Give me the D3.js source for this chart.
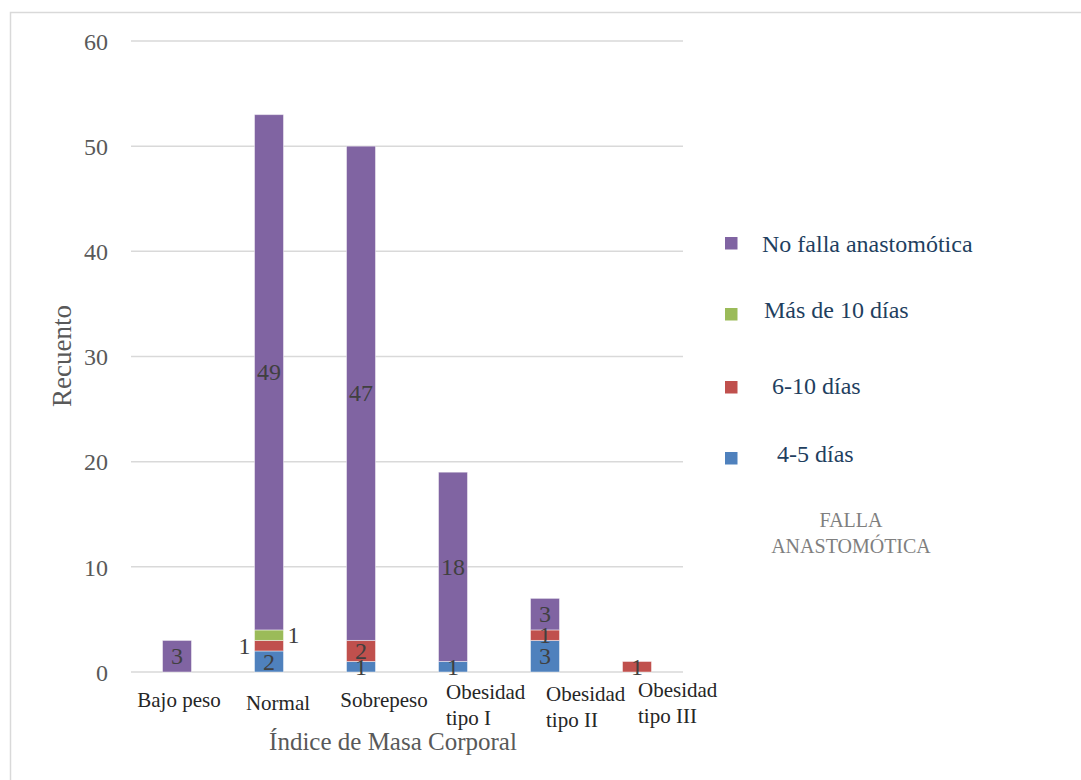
<!DOCTYPE html>
<html>
<head>
<meta charset="utf-8">
<script src="https://cdn.jsdelivr.net/npm/d3@7"></script>
<style>
  html, body { margin: 0; padding: 0; background: #fff; }
  svg { display: block; }
  text { font-family: "Liberation Serif", "Times New Roman", serif; }
</style>
</head>
<body>
<svg id="chart" width="1081" height="780"></svg>
<script>
// Recuento por Índice de Masa Corporal y días hasta la falla anastomótica
const categories = ["Bajo peso", "Normal", "Sobrepeso", "Obesidad tipo I", "Obesidad tipo II", "Obesidad tipo III"];
const categoryLines = [["Bajo peso"], ["Normal"], ["Sobrepeso"], ["Obesidad", "tipo I"], ["Obesidad", "tipo II"], ["Obesidad", "tipo III"]];

const seriesNames = ["4-5 días", "6-10 días", "Más de 10 días", "No falla anastomótica"];
const dias4a5     = [0, 2, 1, 1, 3, 0];
const dias6a10    = [0, 1, 2, 0, 1, 1];
const masDe10     = [0, 1, 0, 0, 0, 0];
const noFalla     = [3, 49, 47, 18, 3, 0];

const yTicks = [0, 10, 20, 30, 40, 50, 60];
const legendTitle = ["FALLA", "ANASTOMÓTICA"];

const colors = {
  "4-5 días": "#4F81BD",
  "6-10 días": "#C0504D",
  "Más de 10 días": "#9BBB59",
  "No falla anastomótica": "#8064A2"
};

// value labels drawn beside the bar instead of inside it
const outsideLabels = { "Normal|6-10 días": "left", "Normal|Más de 10 días": "right" };

// x-axis label placement per category
const catLabelLayout = [
  { anchor: "middle", dx: 2, dy: 0 },
  { anchor: "middle", dx: 9, dy: 3 },
  { anchor: "middle", dx: 23, dy: 0 },
  { anchor: "start", dx: -7, dy: -8 },
  { anchor: "start", dx: 1, dy: -6 },
  { anchor: "start", dx: 1, dy: -10 }
];

const rows = categories.map((c, i) => ({
  category: c,
  "4-5 días": dias4a5[i],
  "6-10 días": dias6a10[i],
  "Más de 10 días": masDe10[i],
  "No falla anastomótica": noFalla[i]
}));

const svg = d3.select("#chart");
const W = 1081, H = 780;

svg.append("rect").attr("width", W).attr("height", H).attr("fill", "#fff");
// outer chart frame
svg.append("rect")
  .attr("x", 10.5).attr("y", 12.5).attr("width", 1200).attr("height", 900)
  .attr("fill", "none").attr("stroke", "#D9D9D9").attr("stroke-width", 1.5);

const plot = { left: 131, right: 683, top: 41, bottom: 672 };

const x = d3.scaleBand().domain(categories).range([plot.left, plot.right]).padding(0);
const barW = x.bandwidth() * 0.315;
const y = d3.scaleLinear().domain([0, 60]).range([plot.bottom, plot.top]);

// gridlines
svg.append("g").selectAll("line").data(yTicks).join("line")
  .attr("x1", plot.left).attr("x2", plot.right)
  .attr("y1", d => y(d)).attr("y2", d => y(d))
  .attr("stroke", "#D9D9D9").attr("stroke-width", 1.5);

// y-axis tick labels
const yAxis = d3.axisLeft(y).tickValues(yTicks).tickSize(0).tickPadding(0);
const yg = svg.append("g").attr("transform", `translate(108,0)`).call(yAxis);
yg.select(".domain").remove();
yg.selectAll("text")
  .attr("x", 0)
  .attr("dy", "0.34em")
  .attr("font-family", "Liberation Serif, serif")
  .attr("font-size", 24)
  .attr("fill", "#595959");

// stacked bars
const stack = d3.stack().keys(seriesNames);
const layers = stack(rows);

const gBars = svg.append("g");
layers.forEach(layer => {
  gBars.append("g").selectAll("rect")
    .data(layer.filter(d => d[1] - d[0] > 0))
    .join("rect")
    .attr("x", d => x(d.data.category) + (x.bandwidth() - barW) / 2)
    .attr("y", d => y(d[1]))
    .attr("width", barW)
    .attr("height", d => y(d[0]) - y(d[1]))
    .attr("fill", colors[layer.key])
    .attr("stroke", "#ffffff").attr("stroke-opacity", 0.45).attr("stroke-width", 1);
});

// value labels
const gLabels = svg.append("g");
layers.forEach(layer => {
  layer.filter(d => d[1] - d[0] > 0).forEach(d => {
    const cat = d.data.category;
    const side = outsideLabels[cat + "|" + layer.key];
    const cx = x(cat) + x.bandwidth() / 2;
    let tx = cx, anchor = "middle";
    if (side === "left") { tx = cx - barW / 2 - 4; anchor = "end"; }
    if (side === "right") { tx = cx + barW / 2 + 4; anchor = "start"; }
    gLabels.append("text")
      .attr("x", tx)
      .attr("y", y((d[0] + d[1]) / 2))
      .attr("dy", "0.34em")
      .attr("text-anchor", anchor)
      .attr("font-size", 24)
      .attr("fill", "#404040")
      .text(d[1] - d[0]);
  });
});

// category labels
const gCats = svg.append("g");
categories.forEach((c, i) => {
  const lay = catLabelLayout[i];
  const cx = x(c) + x.bandwidth() / 2 + lay.dx;
  const t = gCats.append("text")
    .attr("x", cx)
    .attr("y", 707 + lay.dy)
    .attr("text-anchor", lay.anchor)
    .attr("font-size", 21)
    .attr("fill", "#262626");
  categoryLines[i].forEach((line, j) => {
    t.append("tspan").attr("x", cx).attr("dy", j === 0 ? 0 : 26).text(line);
  });
});

// axis titles
svg.append("text")
  .attr("x", 393).attr("y", 750)
  .attr("text-anchor", "middle")
  .attr("font-size", 25)
  .attr("fill", "#595959")
  .text("Índice de Masa Corporal");

svg.append("text")
  .attr("transform", "translate(71,356) rotate(-90)")
  .attr("text-anchor", "middle")
  .attr("font-size", 27)
  .attr("fill", "#595959")
  .text("Recuento");

// legend
const legendItems = [
  { key: "No falla anastomótica", sy: 237, tx: 762, ty: 252 },
  { key: "Más de 10 días", sy: 308, tx: 764, ty: 318 },
  { key: "6-10 días", sy: 381, tx: 772, ty: 394 },
  { key: "4-5 días", sy: 452, tx: 777, ty: 462 }
];
const gLeg = svg.append("g");
legendItems.forEach(it => {
  gLeg.append("rect")
    .attr("x", 725).attr("y", it.sy).attr("width", 12.5).attr("height", 12.5)
    .attr("fill", colors[it.key]);
  gLeg.append("text")
    .attr("x", it.tx).attr("y", it.ty)
    .attr("font-size", 24)
    .attr("fill", "#1F3F5F")
    .text(it.key);
});
legendTitle.forEach((line, j) => {
  gLeg.append("text")
    .attr("x", 851).attr("y", 527 + j * 26)
    .attr("text-anchor", "middle")
    .attr("font-size", 20)
    .attr("fill", "#7F7F7F")
    .text(line);
});
</script>
</body>
</html>
